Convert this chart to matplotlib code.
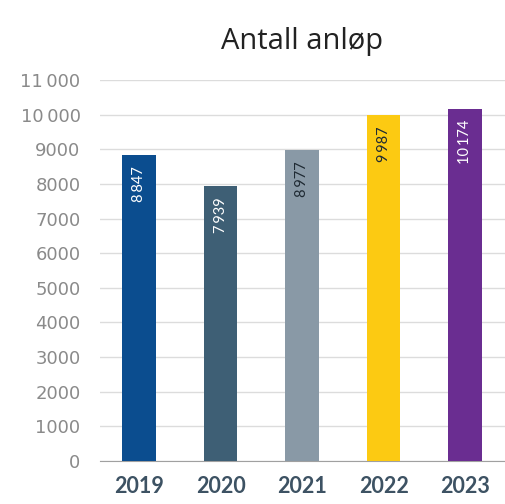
import matplotlib.pyplot as plt
from matplotlib.ticker import FuncFormatter

# data
years = ['2019', '2020', '2021', '2022', '2023']
calls = [8847, 7939, 8977, 9987, 10174]
colors = ['#0b4d8f', '#3e5f75', '#8999a6', '#fcca12', '#6a2d91']
label_colors = ['#ffffff', '#ffffff', '#1f2a33', '#1f2a33', '#ffffff']
yticks = list(range(0, 11001, 1000))

plt.rcParams['font.family'] = ['Lato', 'DejaVu Sans']

fig = plt.figure(figsize=(5.05, 5.04), dpi=100)
ax = fig.add_axes([0.198, 0.0853, 0.802, 0.756])

x = range(len(years))
ax.bar(x, calls, width=0.41, color=colors, zorder=3)

def fmt(v):
    return f'{int(v):,}'.replace(',', '\u2009')

def fmt_tick(v, p):
    # only five-digit numbers get a separator on the axis
    if v >= 10000:
        return fmt(v)
    return str(int(v))

for i, v in enumerate(calls):
    ax.text(i, v - 320, fmt(v), rotation=90, ha='center', va='top',
            color=label_colors[i], fontsize=10.5, zorder=4)

ax.set_xlim(-0.48, 4.49)
ax.set_ylim(0, 11000)
ax.set_yticks(yticks)
ax.yaxis.set_major_formatter(FuncFormatter(fmt_tick))
ax.grid(axis='y', color='#dcdcdc', linewidth=1, zorder=0)
for s in ['top', 'right', 'left']:
    ax.spines[s].set_visible(False)
ax.spines['bottom'].set_color('#a0a0a0')
ax.tick_params(axis='y', length=0, colors='#8a8a8a', pad=14)
for t in ax.get_yticklabels():
    t.set_fontfamily(['DejaVu Sans'])
    t.set_fontsize(13)
ax.tick_params(axis='x', length=0, colors='#3d5263', pad=11)
ax.set_xticks(list(x))
ax.set_xticklabels(years, fontweight='bold', fontsize=15.5)

fig.text(0.598, 0.918, 'Antall anløp', ha='center', va='center',
         fontsize=21, color='#222222', family=['Open Sans', 'DejaVu Sans'])

fig.savefig('out.png', dpi=100)
